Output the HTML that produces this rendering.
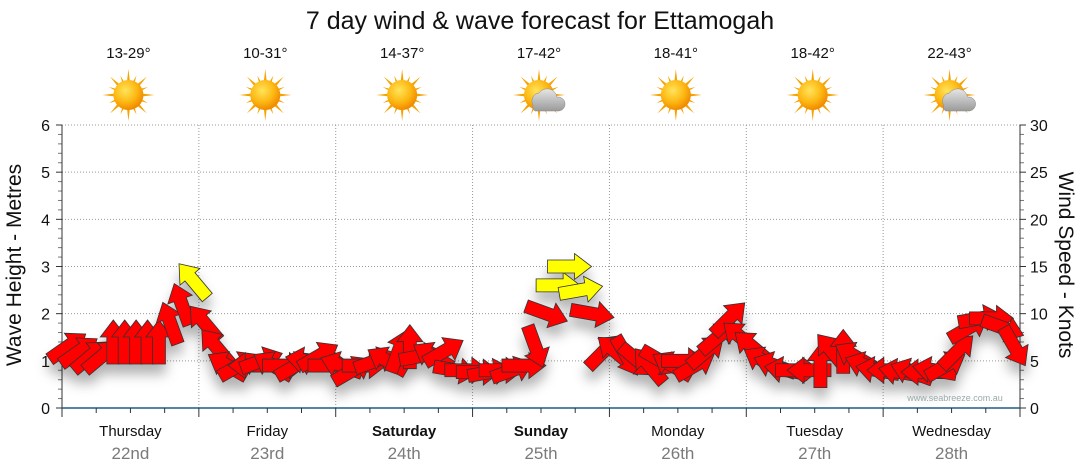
<!DOCTYPE html>
<html><head><meta charset="utf-8"><style>
body{margin:0;background:#fff;}
svg{display:block;font-family:"Liberation Sans","DejaVu Sans",sans-serif;}
</style></head><body>
<svg id="c" width="1080" height="475" viewBox="0 0 1080 475">
<defs>
<radialGradient id="sun" cx="40%" cy="35%" r="65%"><stop offset="0" stop-color="#ffe45a"/><stop offset="0.6" stop-color="#fdb813"/><stop offset="1" stop-color="#f08a00"/></radialGradient>
<linearGradient id="cloud" x1="0" y1="0" x2="0" y2="1"><stop offset="0" stop-color="#e6e6e6"/><stop offset="1" stop-color="#9a9a9a"/></linearGradient>
<filter id="sh" x="-50%" y="-50%" width="200%" height="250%"><feDropShadow dx="0" dy="10" stdDeviation="6" flood-color="#000" flood-opacity="0.3"/></filter>
</defs>
<text x="540" y="29" text-anchor="middle" font-size="25" fill="#111">7 day wind &amp; wave forecast for Ettamogah</text>
<g id="axes"></g>
<g id="icons"></g>
<g id="arrows" filter="url(#sh)"></g>
<text x="955" y="401" text-anchor="middle" font-size="9" fill="#9aa">www.seabreeze.com.au</text>
<text transform="translate(21,265) rotate(-90)" text-anchor="middle" font-size="21" fill="#111">Wave Height - Metres</text>
<text transform="translate(1059,265) rotate(90)" text-anchor="middle" font-size="21" fill="#111">Wind Speed - Knots</text>
</svg>
<script>
const days = ["Thursday","Friday","Saturday","Sunday","Monday","Tuesday","Wednesday"];
const dates = ["22nd","23rd","24th","25th","26th","27th","28th"];
const temps = ["13-29°","10-31°","14-37°","17-42°","18-41°","18-42°","22-43°"];
const cloudy = [false,false,false,true,false,false,true];
const boldDays = [false,false,true,true,false,false,false];
const waveTicks = [0,1,2,3,4,5,6];
const knotTicks = [0,5,10,15,20,25,30];
const windKnots = [6.5,6,5.5,5.5,7,7,7,7,7,9,11,13.5,
  9,6.5,4.5,4.5,4.5,5,4.5,4.5,4.5,5,5.5,4.5,
  4.5,4,4.5,5,5,6,6.5,5.5,5.5,6,4,4,
  3.8,3.8,4,4,4.5,6.5,10,13,15,12.5,10,6,
  6,5.5,5,4.5,5,4.5,5,4.5,6,7.5,9.5,7.5,
  6.5,5,4.5,4,4,4,4.5,6,6,5.5,4.5,4,
  4,3.8,3.8,3.8,4,4.5,6,8.5,9.5,9.5,8.5,6.5];
const windDir = [55,55,50,50,0,0,0,0,0,-20,-20,-40,
  -40,-40,-60,60,-90,70,-60,90,60,-80,60,90,
  -70,60,90,70,-60,20,0,80,-60,60,100,90,
  90,80,90,70,90,160,110,90,90,80,100,45,
  -50,150,130,-40,120,-60,90,60,50,50,45,-50,
  -50,-60,-70,-80,90,-90,0,-40,0,-60,-70,-80,
  -90,-80,-70,-90,-80,60,45,60,80,90,110,150];

const NS="http://www.w3.org/2000/svg";
const X0=62,X1=1020,Y0=408,Y1=125;
const dayW=(X1-X0)/7;
const xT=i=>X0+(i+0.5)*(X1-X0)/windKnots.length;
const yM=m=>Y0-(m/6)*(Y0-Y1);
const yK=k=>Y0-(k/30)*(Y0-Y1);
function mk(tag,attrs,parent,txt){const e=document.createElementNS(NS,tag);for(const k in attrs)e.setAttribute(k,attrs[k]);if(txt!==undefined)e.textContent=txt;parent.appendChild(e);return e;}
const ax=document.getElementById('axes');
waveTicks.forEach(t=>{
  if(t>0){const g=mk('line',{x1:X0,x2:X1,y1:yM(t),y2:yM(t),stroke:'#999','stroke-dasharray':'1,2'},ax);
  
  }
  const l=mk('text',{x:X0-12,y:yM(t)+6,'text-anchor':'end','font-size':16,fill:'#111'},ax,t);
  
  
  mk('line',{x1:X0-6,x2:X0,y1:yM(t),y2:yM(t),stroke:'#333'},ax);
  for(let s=1;s<5&&t<6;s++){mk('line',{x1:X0-4,x2:X0,y1:yM(t+s*0.2),y2:yM(t+s*0.2),stroke:'#777'},ax);}
});
knotTicks.forEach(t=>{
  const l=mk('text',{x:X1+10,y:yK(t)+6,'font-size':16,fill:'#111'},ax,t);
  
  
  mk('line',{x1:X1,x2:X1+6,y1:yK(t),y2:yK(t),stroke:'#333'},ax);
  for(let s=1;s<5&&t<30;s++){mk('line',{x1:X1,x2:X1+4,y1:yK(t+s),y2:yK(t+s),stroke:'#777'},ax);}
});
for(let d=1;d<7;d++){const g=mk('line',{x1:X0+d*dayW,x2:X0+d*dayW,y1:Y1,y2:Y0,stroke:'#999','stroke-dasharray':'1,2'},ax);
  
  }
mk('line',{x1:X0,x2:X0,y1:Y1,y2:Y0,stroke:'#333'},ax);
mk('line',{x1:X1,x2:X1,y1:Y1,y2:Y0,stroke:'#333'},ax);
const xa=mk('line',{x1:X0,x2:X1,y1:Y0,y2:Y0,stroke:'#1f5f86','stroke-width':1.5},ax);


for(let i=0;i<=28;i++){const x=X0+i*dayW/4;mk('line',{x1:x,x2:x,y1:Y0,y2:Y0+(i%4==0?9:5),stroke:'#333'},ax);}
const ic=document.getElementById('icons');
days.forEach((d,i)=>{
  const cx=X0+(i+0.5)*dayW;
  const a=mk('text',{x:cx,y:436,'text-anchor':'middle','font-size':15,fill:'#111','font-weight':boldDays[i]?'bold':'normal'},ax,d);
  
  
  const b=mk('text',{x:cx,y:459,'text-anchor':'middle','font-size':17,fill:'#7a7a7a'},ax,dates[i]);
  
  
  const t=mk('text',{x:cx-2,y:58,'text-anchor':'middle','font-size':15,fill:'#111'},ic,temps[i]);
  
  
  const g=mk('g',{transform:`translate(${cx-2},95)`},ic);
  
  
  for(let r=0;r<16;r++){const ang=r*22.5,len=r%2?21:26;mk('polygon',{points:`-3,0 3,0 0,-${len}`,fill:'#f5a300',transform:`rotate(${ang})`},g);}
  mk('circle',{r:15,fill:'url(#sun)'},g);
  if(cloudy[i]){mk('path',{d:'M-6,10 a8,8 0 0 1 6,-12 a10,10 0 0 1 18,4 a7,7 0 0 1 2,14 h-24 a6,6 0 0 1 -2,-6z',fill:'url(#cloud)',stroke:'#888','stroke-width':0.5},g);}
});
const ar=document.getElementById('arrows');
windKnots.forEach((k,i)=>{
  const x=xT(i),y=yK(k);
  const p=mk('polygon',{points:'-22,-6.5 5,-6.5 5,-13 22,0 5,13 5,6.5 -22,6.5',fill:k>=12?'#ffff00':'#ff0000',stroke:'#333','stroke-width':0.8,transform:`translate(${x},${y}) rotate(${windDir[i]-90})`},ar);
  
  
});
</script>
</body></html>
